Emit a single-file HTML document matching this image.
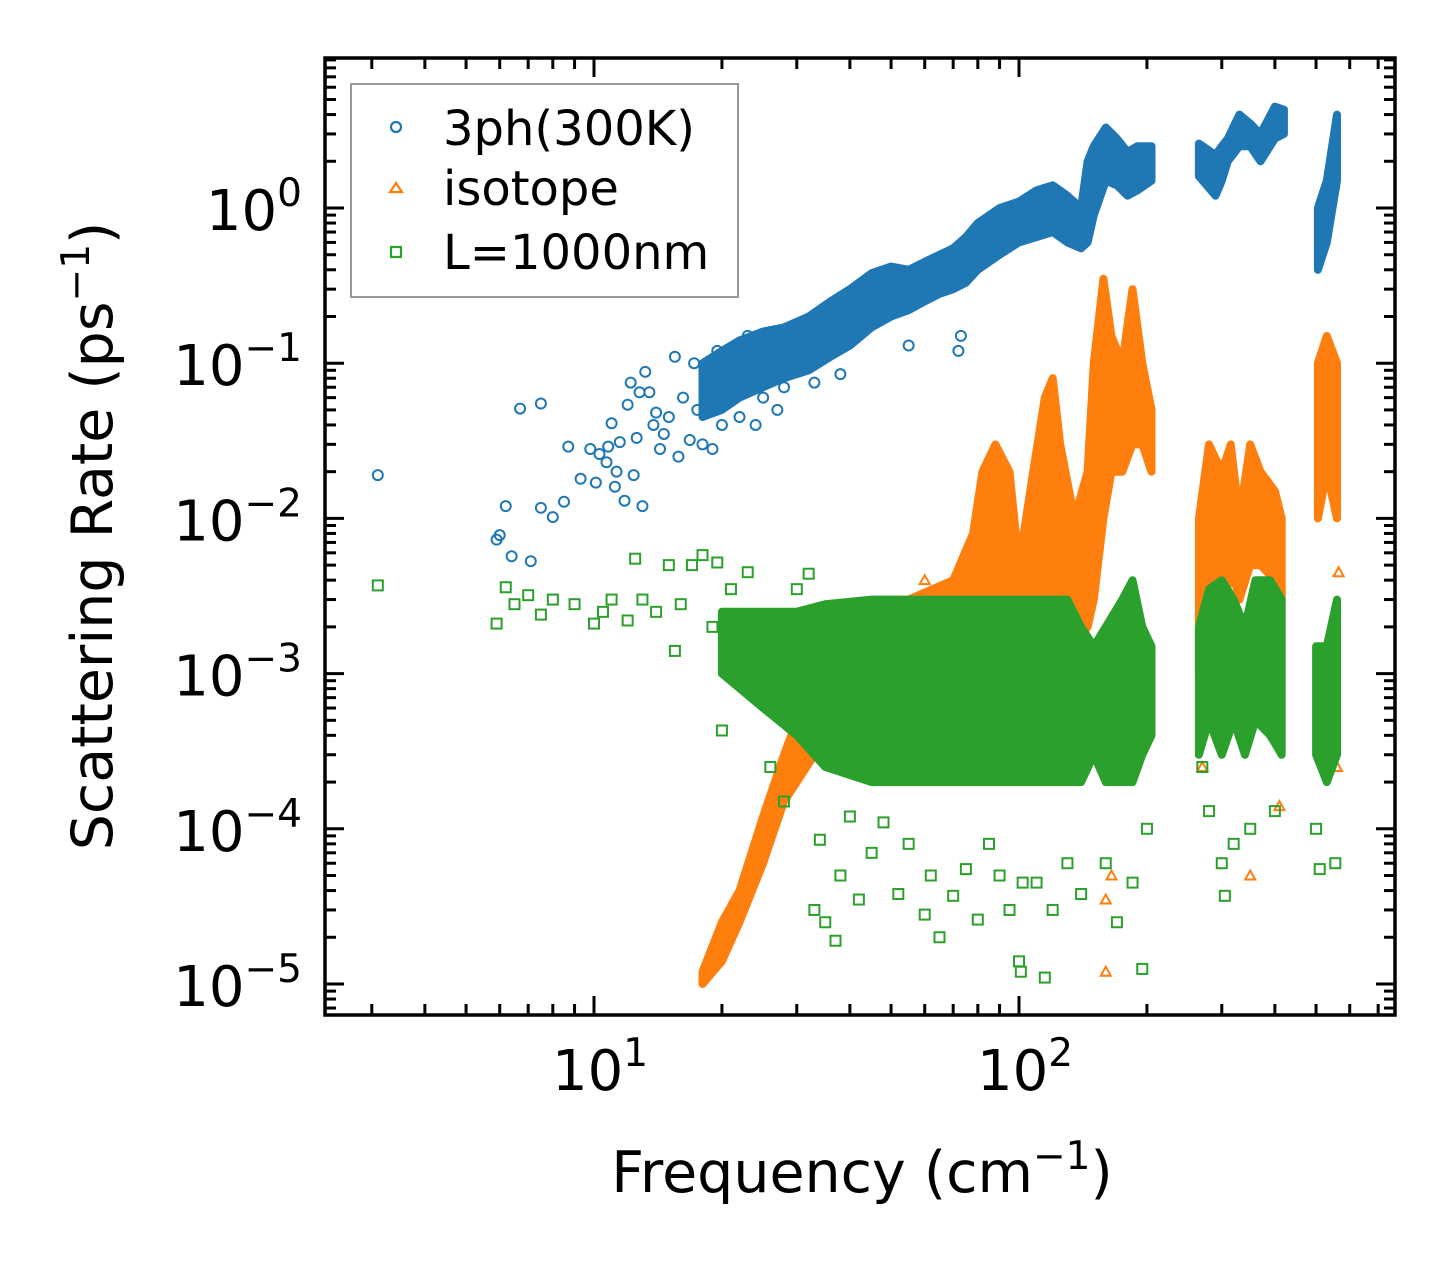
<!DOCTYPE html>
<html><head><meta charset="utf-8">
<style>
html,body{margin:0;padding:0;background:#fff;}
svg{display:block;font-family:"DejaVu Sans","Liberation Sans",sans-serif;}
</style></head>
<body>
<svg id="chart" width="1455" height="1265" viewBox="0 0 1455 1265">
<g id="marks"></g>
<g id="axes"></g>
<g id="legend">
  <rect x="351" y="84" width="387" height="213" fill="#fff" stroke="#999" stroke-width="2"/>
  <circle cx="396" cy="127" r="5" fill="none" stroke="#1f77b4" stroke-width="2.2"/>
  <text x="443" y="145" font-size="48">3ph(300K)</text>
  <polygon points="396,183 402,192 390,192" fill="none" stroke="#ff7f0e" stroke-width="2.2"/>
  <text x="443" y="205" font-size="48">isotope</text>
  <rect x="391" y="247" width="10" height="10" fill="none" stroke="#2ca02c" stroke-width="2.2"/>
  <text x="443" y="269" font-size="48">L=1000nm</text>
</g>
<text x="862" y="1192" font-size="57" text-anchor="middle">Frequency (cm<tspan dy="-23" font-size="39">−1</tspan><tspan dy="23">)</tspan></text>
<text transform="translate(112,536) rotate(-90)" font-size="57" text-anchor="middle">Scattering Rate (ps<tspan dy="-23" font-size="39">−1</tspan><tspan dy="23">)</tspan></text>
</svg>
<script>
// ---- data ----
const blueScatter = [[3.1,0.019],[5.9,0.0073],[6.0,0.0078],[6.2,0.012],[6.4,0.0057],[6.7,0.051],[7.1,0.0053],[7.5,0.055],[7.5,0.0117],[8.0,0.0102],[8.5,0.0128],[8.7,0.029],[9.3,0.018],[9.8,0.028],[10.1,0.017],[10.3,0.026],[10.7,0.023],[10.8,0.029],[11.0,0.041],[11.2,0.016],[11.3,0.020],[11.5,0.031],[11.8,0.013],[12.0,0.054],[12.2,0.075],[12.4,0.019],[12.6,0.033],[12.8,0.065],[13.0,0.012],[13.2,0.088],[13.5,0.065],[13.8,0.04],[14.0,0.048],[14.3,0.028],[14.6,0.035],[15.0,0.045],[15.5,0.11],[15.8,0.025],[16.2,0.06],[16.8,0.032],[17.2,0.10],[17.5,0.05],[18,0.03],[18.5,0.07],[19,0.028],[19.5,0.12],[20,0.04],[21,0.09],[22,0.045],[23,0.15],[24,0.04],[25,0.06],[26,0.12],[27,0.05],[28,0.07],[29,0.16],[33,0.075],[38,0.085],[55,0.13],[72,0.12],[73,0.15]];
const blueBands = [
 [[18,0.045,0.1],[20,0.05,0.12],[22,0.06,0.14],[25,0.07,0.16],[28,0.08,0.17],[32,0.09,0.2],[36,0.11,0.25],[40,0.13,0.3],[45,0.17,0.38],[50,0.2,0.42],[55,0.22,0.4],[60,0.25,0.45],[65,0.28,0.5],[70,0.3,0.55],[75,0.33,0.65],[80,0.4,0.8],[90,0.5,1.0],[100,0.6,1.1],[110,0.65,1.3],[120,0.7,1.4],[130,0.6,1.2],[140,0.55,1.0],[145,0.6,2.0],[150,0.9,2.5],[160,1.5,3.3],[170,1.4,2.8],[180,1.2,2.3],[190,1.3,2.5],[205,1.5,2.5]],
 [[265,1.6,2.6],[290,1.2,2.2],[300,1.5,2.5],[310,2.0,2.8],[330,2.5,4.0],[350,2.5,3.5],[370,2.0,3.0],[400,2.8,4.5],[420,3.0,4.3]],
 [[505,0.4,1.0],[530,0.6,1.5],[560,1.5,4]]
];
const orangeScatter = [[160,1.2e-5],[160,3.5e-5],[165,5e-5],[350,5e-5],[410,1.4e-4],[270,2.5e-4],[565,4.5e-3],[560,2.5e-4],[60,4e-3],[75,3.5e-3]];
const orangeBands = [
 [[18,1e-5,1.2e-5],[20,1.4e-5,2.5e-5],[22,2.5e-5,4e-5],[25,6e-5,1.2e-4],[28,1.5e-4,3e-4],[30,2e-4,5e-4],[33,3e-4,1.5e-3],[40,4e-4,2e-3],[55,5e-4,3e-3],[70,6e-4,4e-3],[78,8e-4,0.008],[82,1e-3,0.02],[88,1.5e-3,0.03],[95,1e-3,0.02],[100,1e-3,0.005],[108,1.5e-3,0.02],[115,2e-3,0.06],[120,2e-3,0.08],[125,2e-3,0.03],[135,1.5e-3,0.01],[145,2e-3,0.02],[150,3e-3,0.1],[158,0.01,0.35],[165,0.02,0.15],[175,0.02,0.1],[185,0.03,0.3],[195,0.03,0.1],[205,0.02,0.05]],
 [[265,1e-3,0.01],[280,2e-3,0.03],[300,2e-3,0.02],[315,5e-3,0.03],[330,3e-3,0.01],[350,5e-3,0.03],[370,5e-3,0.02],[400,4e-3,0.015],[415,3e-3,0.01]],
 [[505,0.01,0.1],[530,0.02,0.15],[560,0.01,0.1]]
];
const greenScatter = [[3.1,3.7e-3],[5.9,2.1e-3],[6.2,3.6e-3],[6.5,2.8e-3],[7,3.2e-3],[7.5,2.4e-3],[8,3e-3],[9,2.8e-3],[10,2.1e-3],[10.5,2.5e-3],[11,3e-3],[12,2.2e-3],[12.5,5.5e-3],[13,3e-3],[14,2.5e-3],[15,5e-3],[15.5,1.4e-3],[16,2.8e-3],[17,5e-3],[18,5.8e-3],[19,2e-3],[19.5,5.2e-3],[20,4.3e-4],[21,3.5e-3],[22,1.2e-3],[23,4.5e-3],[24,8e-4],[26,2.5e-4],[28,1.5e-4],[30,3.5e-3],[32,4.4e-3],[33,3e-5],[34,8.5e-5],[35,2.5e-5],[37,1.9e-5],[38,5e-5],[40,1.2e-4],[42,3.5e-5],[45,7e-5],[48,1.1e-4],[52,3.8e-5],[55,8e-5],[60,2.8e-5],[62,5e-5],[65,2e-5],[70,3.7e-5],[75,5.5e-5],[80,2.6e-5],[85,8e-5],[90,5e-5],[95,3e-5],[100,1.4e-5],[101,1.2e-5],[102,4.5e-5],[110,4.5e-5],[115,1.1e-5],[120,3e-5],[130,6e-5],[140,3.8e-5],[160,6e-5],[170,2.5e-5],[185,4.5e-5],[195,1.25e-5],[200,1e-4],[270,2.5e-4],[280,1.3e-4],[300,6e-5],[305,3.7e-5],[320,8e-5],[350,1e-4],[400,1.3e-4],[500,1e-4],[510,5.5e-5],[555,6e-5]];
const greenBands = [
 [[20,1e-3,2.5e-3],[25,6e-4,2.5e-3],[30,4e-4,2.5e-3],[35,2.5e-4,2.8e-3],[45,2e-4,3e-3],[60,2e-4,3e-3],[80,2e-4,3e-3],[100,2e-4,3e-3],[130,2e-4,3e-3],[140,2e-4,2e-3],[150,3e-4,1.5e-3],[160,2e-4,2e-3],[175,2e-4,3e-3],[185,2e-4,4e-3],[195,3e-4,2e-3],[205,4e-4,1.5e-3]],
 [[265,3e-4,2e-3],[280,5e-4,3.5e-3],[300,3e-4,4e-3],[320,5e-4,3e-3],[340,3e-4,2e-3],[360,5e-4,4e-3],[390,4e-4,4e-3],[415,3e-4,3e-3]],
 [[500,3e-4,1.5e-3],[530,2e-4,1.5e-3],[560,3e-4,3e-3]]
];
const xTickExps = [1,2];
const yTickExps = [0,-1,-2,-3,-4,-5];

// ---- axes geometry ----
const PL=325, PR=1395, PT=58, PB=1015;
const X10=594, XDEC=425, Y1=208, YDEC=155.2;
function xs(v){return X10 + (Math.log10(v)-1)*XDEC;}
function ys(v){return Y1 - Math.log10(v)*YDEC;}
const NS='http://www.w3.org/2000/svg';
const marks=document.getElementById('marks');
const axes=document.getElementById('axes');
function mk(tag,attrs,parent){const e=document.createElementNS(NS,tag);for(const k in attrs)e.setAttribute(k,attrs[k]);parent.appendChild(e);return e;}

function drawBands(bands,color,name){
  bands.forEach((seg,i)=>{
    const top=seg.map(r=>xs(r[0]).toFixed(1)+','+ys(r[2]).toFixed(1));
    const bot=seg.slice().reverse().map(r=>xs(r[0]).toFixed(1)+','+ys(r[1]).toFixed(1));
    const p=mk('polygon',{points:top.concat(bot).join(' '),fill:color,stroke:color,'stroke-width':8,'stroke-linejoin':'round'},marks);
    
    
  });
}
function drawPts(pts,color,shape,name){
  pts.forEach(pt=>{
    const x=xs(pt[0]), y=ys(pt[1]); let e;
    if(shape==='c') e=mk('circle',{cx:x,cy:y,r:5,fill:'none',stroke:color,'stroke-width':2},marks);
    else if(shape==='t') e=mk('polygon',{points:`${x},${y-5} ${x+5},${y+4} ${x-5},${y+4}`,fill:'none',stroke:color,'stroke-width':2},marks);
    else e=mk('rect',{x:x-5,y:y-5,width:10,height:10,fill:'none',stroke:color,'stroke-width':2},marks);
    
    
  });
}
drawBands(blueBands,'#1f77b4','3ph');
drawPts(blueScatter,'#1f77b4','c','3ph');
drawBands(orangeBands,'#ff7f0e','isotope');
drawPts(orangeScatter,'#ff7f0e','t','isotope');
drawBands(greenBands,'#2ca02c','l1000nm');
drawPts(greenScatter,'#2ca02c','s','l1000nm');

const fr=mk('rect',{x:PL,y:PT,width:PR-PL,height:PB-PT,fill:'none',stroke:'#000','stroke-width':3.5},axes);



for(let d=0; d<=2; d++){
  for(let m=1;m<10;m++){
    const v=m*Math.pow(10,d); const x=xs(v);
    if(x<PL+1||x>PR-1) continue;
    const L = m===1?19:11;
    const t1=mk('line',{x1:x,y1:PB,x2:x,y2:PB-L,stroke:'#000','stroke-width':3},axes);
    
    
    const t2=mk('line',{x1:x,y1:PT,x2:x,y2:PT+L,stroke:'#000','stroke-width':3},axes);
    
    
  }
}
xTickExps.forEach(e=>{
  const x=xs(Math.pow(10,e));
  const t=mk('text',{x:x+6,y:1090,'font-size':56,'text-anchor':'middle'},axes);
  t.innerHTML='10<tspan dy="-24" font-size="39">'+e+'</tspan>';
  
  
});
for(let d=-6; d<=0; d++){
  for(let m=1;m<10;m++){
    const v=m*Math.pow(10,d); const y=ys(v);
    if(y<PT+1||y>PB-1) continue;
    const L = m===1?19:11;
    const t1=mk('line',{x1:PL,y1:y,x2:PL+L,y2:y,stroke:'#000','stroke-width':3},axes);
    
    
    const t2=mk('line',{x1:PR,y1:y,x2:PR-L,y2:y,stroke:'#000','stroke-width':3},axes);
    
    
  }
}
yTickExps.forEach(e=>{
  const y=ys(Math.pow(10,e));
  const t=mk('text',{x:302,y:y+22,'font-size':56,'text-anchor':'end'},axes);
  t.innerHTML='10<tspan dy="-24" font-size="39">'+(e<0?'−'+(-e):e)+'</tspan>';
  
  
});
</script>
</body></html>
